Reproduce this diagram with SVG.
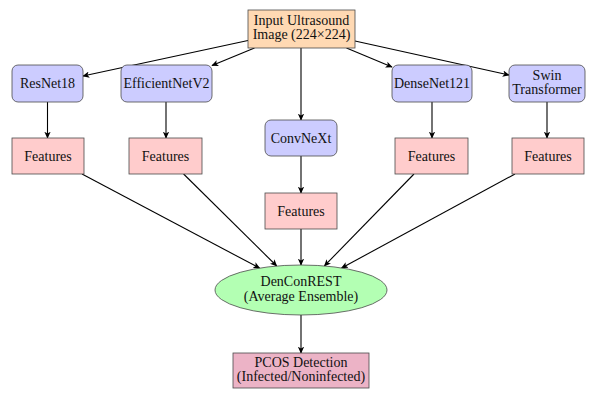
<svg xmlns="http://www.w3.org/2000/svg" width="597" height="401" viewBox="0 0 597 401">
<defs>
<marker id="ah" viewBox="0 0 10 10" refX="9" refY="5" markerWidth="7" markerHeight="7" markerUnits="userSpaceOnUse" orient="auto">
<path d="M0,0.5 L10,5 L0,9.5 L2.5,5 Z" fill="#000"/>
</marker>
<style>
text{font-family:"Liberation Serif","DejaVu Serif",serif;font-size:14px;fill:#111;text-anchor:middle}
.b{stroke:#4a4a4a;stroke-width:0.8}
.model{fill:#CCCCFF}
.feat{fill:#FFCCCC}
.conn line{stroke:#000;stroke-width:1.1;marker-end:url(#ah)}
</style>
</defs>
<g class="conn" id="connectors">
<line x1="248" y1="40.5" x2="83" y2="76"/>
<line x1="254.5" y1="48" x2="212" y2="65.5"/>
<line x1="301" y1="48" x2="301" y2="120"/>
<line x1="346.5" y1="48" x2="392" y2="67"/>
<line x1="355" y1="41" x2="509" y2="75"/>
<line x1="47.5" y1="102" x2="47.5" y2="138"/>
<line x1="166" y1="102" x2="166" y2="138"/>
<line x1="301" y1="156" x2="301" y2="193"/>
<line x1="432" y1="102" x2="432" y2="138"/>
<line x1="547" y1="102" x2="547" y2="138"/>
<line x1="82" y1="174" x2="259.6" y2="268.1"/>
<line x1="183.6" y1="174" x2="276.7" y2="266"/>
<line x1="301" y1="229" x2="301" y2="265"/>
<line x1="414" y1="174" x2="324.4" y2="265.9"/>
<line x1="515" y1="174" x2="341.6" y2="268"/>
<line x1="301" y1="315" x2="301" y2="353"/>
</g>
<g id="input">
<rect class="b" x="248" y="10" width="107" height="38" fill="#FFD9B3"/>
<text x="301.5" y="24.5">Input Ultrasound</text>
<text x="301.5" y="39">Image (224×224)</text>
</g>
<g id="resnet18">
<rect class="b model" x="12" y="65" width="71" height="37" rx="6"/>
<text x="47.5" y="88">ResNet18</text>
</g>
<g id="efficientnetv2">
<rect class="b model" x="121" y="65" width="91" height="37" rx="6"/>
<text x="166.5" y="88">EfficientNetV2</text>
</g>
<g id="convnext">
<rect class="b model" x="265" y="120" width="72" height="36" rx="6"/>
<text x="301" y="143">ConvNeXt</text>
</g>
<g id="densenet121">
<rect class="b model" x="392" y="65" width="80" height="37" rx="6"/>
<text x="432" y="88">DenseNet121</text>
</g>
<g id="swin">
<rect class="b model" x="509" y="65" width="76" height="37" rx="6"/>
<text x="547" y="80">Swin</text>
<text x="547" y="94">Transformer</text>
</g>
<g id="features1">
<rect class="b feat" x="12" y="138" width="72" height="36"/>
<text x="48" y="161">Features</text>
</g>
<g id="features2">
<rect class="b feat" x="129" y="138" width="73" height="36"/>
<text x="165.5" y="161">Features</text>
</g>
<g id="features3">
<rect class="b feat" x="265" y="193" width="72" height="36"/>
<text x="301" y="216">Features</text>
</g>
<g id="features4">
<rect class="b feat" x="395" y="138" width="73" height="36"/>
<text x="431.5" y="161">Features</text>
</g>
<g id="features5">
<rect class="b feat" x="512" y="138" width="72" height="36"/>
<text x="548" y="161">Features</text>
</g>
<g id="ensemble">
<ellipse class="b" cx="301" cy="290" rx="86" ry="25" fill="#B3FFB3"/>
<text x="301" y="286">DenConREST</text>
<text x="301" y="300.5">(Average Ensemble)</text>
</g>
<g id="pcos">
<rect class="b" x="233" y="353" width="136" height="35" fill="#ECB3C6"/>
<text x="301" y="366.5">PCOS Detection</text>
<text x="301" y="381">(Infected/Noninfected)</text>
</g>
</svg>
